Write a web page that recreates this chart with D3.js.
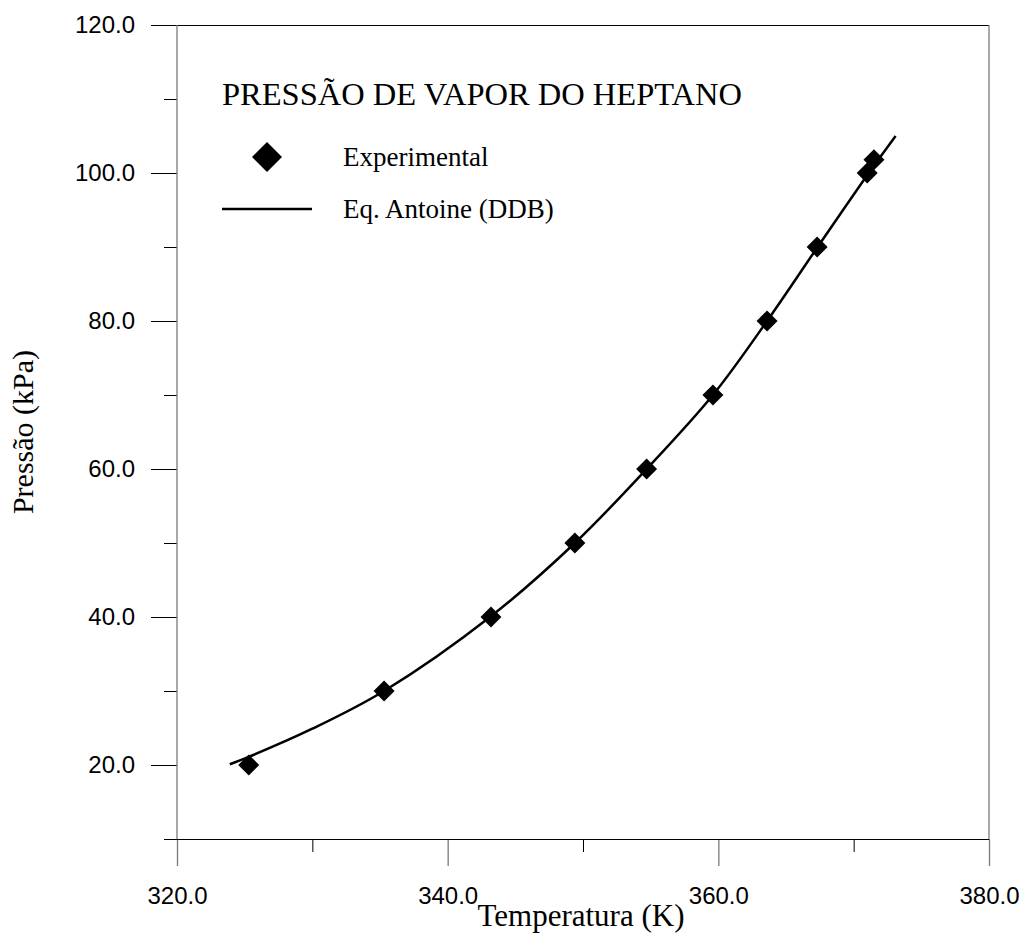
<!DOCTYPE html>
<html>
<head>
<meta charset="utf-8">
<script src="https://cdn.jsdelivr.net/npm/d3@7"></script>
<style>
  body { margin: 0; background: #fff; }
  .tick text { font-family: "Liberation Sans", Arial, sans-serif; font-size: 24px; fill: #000; }
  .serif { font-family: "Liberation Serif", "Times New Roman", serif; fill: #000; }
</style>
</head>
<body>
<div id="chart"></div>
<script>
// experimental points
const expT = [325.3, 335.3, 343.2, 349.4, 354.7, 359.6, 363.6, 367.3, 371.0, 371.5];
const expP = [20.0, 30.0, 40.0, 50.0, 60.0, 70.0, 80.0, 90.0, 100.0, 101.8];

// Antoine curve
const lineT = [323.9, 325.3, 330.0, 335.3, 343.2, 349.4, 354.7, 359.6, 363.6, 367.3, 371.0, 373.1];
const lineP = [20.1, 21.1, 24.9, 30.0, 40.1, 50.0, 60.0, 70.0, 80.0, 89.9, 99.7, 105.0];

const xMajor = [320, 340, 360, 380];
const xMinor = [330, 350, 370];
const yMajor = [20, 40, 60, 80, 100, 120];
const yMinor = [10, 30, 50, 70, 90, 110];

const W = 1025, H = 943;
const margin = { top: 25, right: 36, bottom: 104, left: 177 };
const width = W - margin.left - margin.right;
const height = H - margin.top - margin.bottom;

const svg = d3.select("#chart").append("svg")
    .attr("width", W)
    .attr("height", H);

const g = svg.append("g")
    .attr("transform", `translate(${margin.left},${margin.top})`);

const x = d3.scaleLinear().domain([320, 380]).range([0, width]);
const y = d3.scaleLinear().domain([10, 120]).range([height, 0]);

const vGray = "#7a7a7a";

// y axis: major + minor ticks (horizontal, black)
const yAx = g.append("g")
    .call(d3.axisLeft(y).tickValues(yMajor).tickSize(26).tickPadding(16).tickFormat(d3.format(".1f")));
yAx.select(".domain").remove();
yAx.selectAll(".tick line").attr("stroke", "#000");

const yMin = g.append("g")
    .call(d3.axisLeft(y).tickValues(yMinor).tickSize(13).tickFormat(""));
yMin.select(".domain").remove();
yMin.selectAll(".tick line").attr("stroke", "#000");

// x axis: major ticks (vertical, gray) + minor ticks
const xAx = g.append("g")
    .attr("transform", `translate(0,${height})`)
    .call(d3.axisBottom(x).tickValues(xMajor).tickSize(27).tickPadding(21).tickFormat(d3.format(".1f")));
xAx.select(".domain").remove();
xAx.selectAll(".tick line").attr("stroke", vGray).attr("stroke-width", 1.3);

const xMin = g.append("g")
    .attr("transform", `translate(0,${height})`)
    .call(d3.axisBottom(x).tickValues(xMinor).tickSize(13).tickFormat(""));
xMin.select(".domain").remove();
xMin.selectAll(".tick line").attr("stroke", "#000");

// frame: horizontal black, vertical gray
g.append("line").attr("x1", 0).attr("x2", width).attr("y1", 0.5).attr("y2", 0.5).attr("stroke", "#000");
g.append("line").attr("x1", 0).attr("x2", width).attr("y1", height + 0.5).attr("y2", height + 0.5).attr("stroke", "#000");
g.append("line").attr("x1", 0).attr("x2", 0).attr("y1", 0).attr("y2", height).attr("stroke", vGray).attr("stroke-width", 1.3);
g.append("line").attr("x1", width).attr("x2", width).attr("y1", 0).attr("y2", height).attr("stroke", vGray).attr("stroke-width", 1.3);

// curve
const curveData = lineT.map((t, i) => ({ t: t, p: lineP[i] }));
g.append("path")
    .datum(curveData)
    .attr("fill", "none")
    .attr("stroke", "#000")
    .attr("stroke-width", 2.5)
    .attr("d", d3.line().x(d => x(d.t)).y(d => y(d.p)).curve(d3.curveCatmullRom.alpha(0.5)));

// diamonds
const expData = expT.map((t, i) => ({ t: t, p: expP[i] }));
const diamond = d3.symbol().type(d3.symbolSquare).size(220);
g.selectAll(".dot")
    .data(expData)
    .enter()
    .append("path")
    .attr("class", "dot")
    .attr("d", diamond)
    .attr("transform", d => `translate(${x(d.t)},${y(d.p)}) rotate(45)`)
    .attr("fill", "#000");

// title + legend
svg.append("text").attr("class", "serif")
    .attr("x", 222).attr("y", 105)
    .style("font-size", "32.5px")
    .text("PRESSÃO DE VAPOR DO HEPTANO");

svg.append("path")
    .attr("d", d3.symbol().type(d3.symbolSquare).size(450))
    .attr("transform", "translate(267,157) rotate(45)")
    .attr("fill", "#000");
svg.append("text").attr("class", "serif")
    .attr("x", 343).attr("y", 166)
    .style("font-size", "27px")
    .text("Experimental");

svg.append("line")
    .attr("x1", 222).attr("x2", 312).attr("y1", 209).attr("y2", 209)
    .attr("stroke", "#000").attr("stroke-width", 2.5);
svg.append("text").attr("class", "serif")
    .attr("x", 343).attr("y", 218)
    .style("font-size", "27px")
    .text("Eq. Antoine (DDB)");

// axis titles
svg.append("text").attr("class", "serif")
    .attr("x", 581).attr("y", 926)
    .style("text-anchor", "middle")
    .style("font-size", "31px")
    .text("Temperatura (K)");

svg.append("text").attr("class", "serif")
    .attr("transform", "translate(33,432) rotate(-90)")
    .style("text-anchor", "middle")
    .style("font-size", "30px")
    .text("Pressão (kPa)");
</script>
</body>
</html>
